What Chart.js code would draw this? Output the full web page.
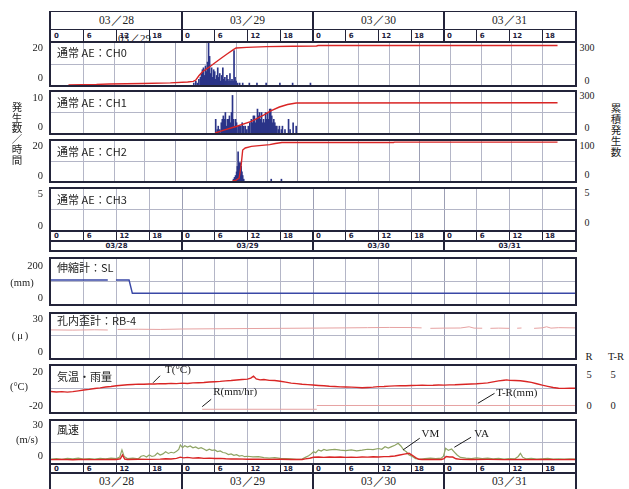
<!DOCTYPE html>
<html>
<head>
<meta charset="utf-8">
<script src="https://cdn.jsdelivr.net/npm/chart.js@4/dist/chart.umd.min.js"></script>
<style>
  html, body { margin: 0; padding: 0; background: #fff; }
  #sheet { position: relative; width: 629px; height: 489px; overflow: hidden; color: #222; font-family: "Liberation Serif", serif; }
  .panel { position: absolute; box-sizing: border-box; border: 2px solid #23243a; background: #fff; }
  .panel canvas { display: block; }
  .title { position: absolute; font-family: "Noto Sans CJK JP", sans-serif; font-size: 11px; line-height: 1; white-space: nowrap; transform: translateY(-50%); }
  .vtitle { position: absolute; font-family: "Noto Sans CJK JP", sans-serif; font-size: 10.5px; text-align: center; width: 14px; }
</style>
</head>
<body>
<div id="sheet"></div>
<script>
// ---- time axis: hours from 03/28 00:00 ----
const dayLabels = ['03／28', '03／29', '03／30', '03／31'];
const dayLabelsSmall = ['03/28', '03/29', '03/30', '03/31'];
const hourTickLabels = ['0', '6', '12', '18'];
const gridHours = [6, 12, 18, 24, 30, 36, 42, 48, 54, 60, 66, 72, 78, 84, 90];

// ---- AE CH0: counts per hour (bars) and cumulative count ----
const ch0BarHours = [24.6,25.0,25.3,25.6,25.9,26.1,26.3,26.5,26.7,26.9,27.1,27.3,27.5,27.7,27.9,28.1,28.3,28.5,28.7,28.9,29.1,29.3,29.5,29.7,29.9,30.1,30.3,30.5,30.7,30.9,31.1,31.3,31.5,31.7,31.9,32.1,32.3,32.5,32.7,32.9,33.2,33.6,34.2,35.5,37.0,38.8,41.5,44.0,47.5];
const ch0BarCounts = [1,2,1,3,4,6,8,9,5,10,7,12,22,15,6,9,4,8,7,3,5,9,4,6,2,5,9,3,4,2,5,3,2,6,2,3,2,18,4,2,1,1,1,1,1,1,1,1,1];
const ch0CumHours = [0,5.5,8,14.6,20,23.4,24.5,25.0,25.6,26.3,27.4,28.7,30.1,31.2,32.3,32.9,35,38.9,44,48.7,49.0,96];
const ch0CumTotals = [0,4,8,11,16,23,28,38,70,101,130,168,208,238,267,282,287,292,295,297,301,301];

// ---- AE CH1 ----
const ch1BarHours = [28.9,29.2,29.4,29.7,30.0,30.2,30.4,30.6,30.8,31.0,31.2,31.4,31.6,31.8,32.0,32.2,32.4,32.6,32.8,33.0,33.3,33.5,33.8,34.1,34.4,34.7,35.0,35.3,35.6,35.9,36.1,36.3,36.5,36.7,36.9,37.1,37.3,37.5,37.7,37.9,38.1,38.3,38.5,38.7,38.9,39.1,39.3,39.5,39.7,39.9,40.1,40.3,40.5,40.7,40.9,41.2,41.4,41.8,42.0,42.5,43.2,43.5,44.1,44.7];
const ch1BarCounts = [4,1,2,1,3,4,5,4,6,2,4,4,5,3,6,11,4,2,4,3,2,2,2,3,2,2,1,2,3,4,3,5,5,3,4,7,5,6,4,6,3,4,3,6,4,6,4,7,7,5,3,4,3,2,2,1,2,1,2,1,4,1,3,2];
const ch1CumHours = [28.8,30.5,32.9,35.9,38.3,39.7,41.4,43.0,44.7,96];
const ch1CumTotals = [0,23,51,91,140,172,203,222,234,236];

// ---- AE CH2 ----
const ch2BarHours = [32.4,32.6,32.8,33.0,33.15,33.3,33.45,33.6,33.75,33.9,34.05,34.2,34.4,39.8,41.8];
const ch2BarCounts = [1,2,3,5,8,16,10,10,10,8,5,3,1,1,1];
const ch2CumHours = [32.2,32.8,33.5,33.9,34.2,34.7,35.9,39.5,40.6,41.9,63.8,64.0,96];
const ch2CumTotals = [0,1.5,9,48,93,99,104,109,112.5,115.5,115.5,116.5,116.5];

// ---- extensometer SL (mm) ----
const slHours = [0,10.4,11.1,11.9,14.3,14.9,96];
const slValues = [109,109,null,109,109,29,29];

// ---- borehole strain gauge RB-4 (μ) ----
const rbHours = [0,4,8,10.4,11.2,12.2,16,20,24,30,36,42,48,54,58,62,66,67.9,68.6,69.5,72,75,76.6,77.5,79,79.6,80.5,82,84,84.6,85.4,86.2,87.4,88.5,90,90.8,91.6,93,96];
const rbValues = [20.2,20.0,20.3,20.1,null,20.6,20.8,20.6,21.0,21.2,21.4,21.6,21.8,22.0,22.2,22.4,22.3,22.0,null,21.6,21.8,21.9,23.0,21.8,21.7,null,21.6,21.8,21.6,null,21.7,21.9,null,21.6,22.0,23.0,21.8,22.2,22.0];

// ---- air temperature T (°C), rainfall R (mm/hr), cumulative rain T-R (mm) ----
const tempHours = [0,1,2,3,4,5,6,7,8,9,10,11,12,13,14,15,16,17,18,19,20,21,22,23,24,25,26,27,28,29,30,31,32,33,34,35,36,36.6,37.1,37.6,38.3,39,40,41,42,43,44,45,46,47,48,49,50,51,52,53,54,55,56,57,58,59,60,61,62,63,64,65,66,67,68,69,70,71,72,73,74,75,76,77,78,79,80,81,82,83,83.5,84,85,86,87,88,89,90,91,92,93,94,95,96];
const tempValues = [-3.2,-3.8,-3.4,-4.0,-3.5,-2.6,-1.6,-0.8,0.2,1.0,2.0,2.6,3.4,4.0,4.6,5.0,5.4,5.2,5.6,5.5,6.0,5.8,6.3,6.0,6.5,6.2,6.8,7.0,7.3,7.8,8.2,8.6,9.2,9.6,10.2,10.8,11.2,12.5,14.8,11.5,10.4,10.8,9.8,9.6,8.8,7.8,6.6,6.0,5.2,4.8,4.3,3.8,3.4,2.9,2.6,2.2,2.0,1.9,1.6,1.2,1.5,1.8,2.4,2.6,3.0,3.3,3.6,3.5,3.8,3.9,4.1,3.9,4.0,4.3,4.2,4.5,4.6,5.0,5.2,5.5,5.8,6.3,6.8,8.0,9.2,10.0,10.4,9.8,9.6,9.3,8.5,7.4,5.8,4.2,2.8,1.4,0.6,0.4,0.6,0.5];
const rainHours = [27.7,48.7];
const rainValues = [0,0];
const rainTotalHours = [48.7,96];
const rainTotalValues = [0,0];

// ---- wind speed: VM (max) and VA (average), m/s ----
const vmHours = [0,1,2,3,4,5,6,7,8,9,10,11,12,12.6,13.0,13.4,14,15,16,16.5,17,17.5,18,18.5,19,19.5,20,20.5,21,21.5,22,22.5,23,23.4,23.7,24.1,24.5,25,25.5,26,26.5,27,27.5,28,28.5,29,29.5,30,30.5,31,31.5,32,32.5,33,33.5,34,34.5,35,35.5,36,37,38,39,40,41,42,43,44,45,46,46.6,47.2,47.6,48.1,48.5,49,49.5,50,50.5,51,52,53,54,55,56,57,58,59,60,60.6,61.2,61.8,62.4,63.0,63.6,64.1,64.6,65.1,65.6,66.2,66.8,67.5,68.5,69.5,70.5,71.5,71.9,72.3,72.8,73.4,73.9,74.4,75,76,77,78,79,80,81,82,83,84,85,85.6,86.0,86.4,87,88,89,90,91,92,93,94,95,96];
const vmValues = [0.8,1.2,0.6,1.4,0.9,1.5,0.8,1.2,0.7,1.3,1.0,1.6,1.2,2.5,8.6,3.0,1.2,1.6,1.0,3.2,3.8,2.6,4.2,3.0,3.6,6.0,4.2,5.2,7.0,5.6,6.6,6.0,7.5,9.0,12.9,10.6,12.2,11.0,12.0,10.4,11.2,9.8,10.6,9.4,8.0,9.2,8.2,8.6,7.2,7.8,6.4,6.0,4.6,5.2,4.0,4.6,3.4,3.8,2.8,3.2,2.6,2.9,2.0,1.6,2.0,1.4,1.2,1.0,0.6,0.8,2.2,3.6,5.0,7.1,6.2,8.6,7.6,9.0,8.2,8.6,9.1,8.4,8.0,8.6,7.8,8.4,9.2,8.8,9.8,9.2,11.4,10.2,11.4,12.6,14.3,12.0,8.6,7.0,4.3,2.9,1.2,0.6,1.2,1.6,1.2,1.6,3.2,10.0,8.2,9.4,6.8,4.3,2.2,1.6,1.2,1.8,1.2,1.6,1.0,1.4,0.8,1.2,1.0,3.0,5.7,2.4,1.0,1.4,0.8,1.0,1.3,0.8,1.0,0.7,1.0,0.8];
const vaHours = [0,2,4,6,8,10,12,12.7,13.1,13.5,14,16,18,20,21,22,23,23.7,24.3,25,26,27,28,29,30,31,32,33,34,36,38,40,42,44,46,46.6,47.4,48.1,49,50,51,52,53,54,55,56,57,58,59,60,61,62,63,63.9,64.7,65.6,66.2,66.8,67.4,68,70,71.5,72.0,72.4,73,73.6,74.2,75,77,80,83,86,88,90,93,96];
const vaValues = [0.3,0.5,0.2,0.5,0.3,0.5,0.4,1.0,4.3,0.8,0.4,0.6,0.5,0.7,1.0,0.8,1.4,2.4,1.8,2.2,1.6,1.9,1.4,1.6,1.2,1.4,1.0,0.8,0.9,0.6,0.7,0.5,0.6,0.4,0.4,0.9,1.5,2.3,2.6,2.2,2.5,2.3,2.6,2.2,2.4,2.2,2.6,2.4,2.7,2.5,2.9,3.0,3.4,4.3,5.0,5.7,4.0,2.0,0.6,0.4,0.5,0.4,1.2,2.9,2.6,2.5,1.0,0.5,0.4,0.5,0.3,0.5,0.3,0.4,0.3,0.4];

// ---- axis labels ----
const ch0AxisLabels = ['20', '0'];
const ch0CumAxisLabels = ['300', '0'];
const ch1AxisLabels = ['10', '0'];
const ch1CumAxisLabels = ['300', '0'];
const ch2AxisLabels = ['20', '0'];
const ch2CumAxisLabels = ['100', '0'];
const ch3AxisLabels = ['5', '0'];
const ch3CumAxisLabels = ['5', '0'];
const slAxisLabels = ['200', '(mm)', '0'];
const rbAxisLabels = ['30', '(μ)', '0'];
const tempAxisLabels = ['20', '(°C)', '-20'];
const rainAxisLabels = ['R', '5', '0'];
const rainTotalAxisLabels = ['T-R', '5', '0'];
const windAxisLabels = ['30', '(m/s)', '0'];

// ---------------------------------------------------------------
const FRAME = '#23243a', INK = '#222', GRID = '#b4b6c7', GRID_DAY = '#9c9fb4';
const BAR = '#2b3488', RED = '#d92525', PINK = '#e6a2a2', GREEN = '#8fa464', BLUE = '#3a48a6';
const PLOT_LEFT = 51, PLOT_W = 524, SPAN_H = 96;
const pxAt = h => PLOT_LEFT + h * PLOT_W / SPAN_H;
const zip = (xs, ys) => xs.map((x, i) => ({ x: x, y: ys[i] }));

const sheet = document.getElementById('sheet');
function el(tag, style, text) {
  const e = document.createElement(tag);
  Object.assign(e.style, style);
  if (text != null) e.textContent = text;
  sheet.appendChild(e);
  return e;
}
function label(text, x, y, align, size, extra) {
  const tx = align === 'right' ? '-100%' : align === 'center' ? '-50%' : '0';
  return el('div', Object.assign({
    position: 'absolute', left: x + 'px', top: y + 'px', transform: 'translate(' + tx + ',-50%)',
    fontSize: (size || 10) + 'px', lineHeight: '1', whiteSpace: 'nowrap', color: INK,
    fontFamily: '"Liberation Serif", serif'
  }, extra || {}), text);
}
function vline(x, top, h, w) {
  el('div', { position: 'absolute', left: (x - w / 2) + 'px', top: top + 'px', width: w + 'px', height: h + 'px', background: FRAME });
}

// hour strip with 0/6/12/18 marks under each day
function hourRow(top, height, bottomBorder) {
  el('div', { position: 'absolute', left: '49px', top: top + 'px', width: '528px', height: height + 'px', boxSizing: 'border-box',
    borderLeft: '2px solid ' + FRAME, borderRight: '2px solid ' + FRAME, borderBottom: bottomBorder ? '2px solid ' + FRAME : 'none' });
  dayLabels.forEach((_, d) => {
    hourTickLabels.forEach((t, k) => {
      const h = 24 * d + Number(t);
      const x = pxAt(h);
      if (h > 0) vline(x, top, height, k === 0 ? 2 : 1.4);
      label(t, x + 3, top + height / 2 - (bottomBorder ? 1 : 0), 'left', 7, { fontFamily: '"DejaVu Sans", sans-serif', fontWeight: 'bold', color: '#1c1c3c' });
    });
  });
}
// date strip
function dateRow(top, height, labels, size, fontExtra, borders) {
  el('div', Object.assign({ position: 'absolute', left: '49px', top: top + 'px', width: '528px', height: height + 'px', boxSizing: 'border-box',
    borderLeft: '2px solid ' + FRAME, borderRight: '2px solid ' + FRAME }, borders));
  labels.forEach((txt, d) => {
    if (d > 0) vline(pxAt(24 * d), top, height, 2);
    label(txt, pxAt(24 * d + 12), top + height / 2 + (fontExtra.dy || 0), 'center', size, fontExtra.style || {});
  });
}

// leader lines with text, anchored in data units
const calloutPlugin = {
  id: 'callouts',
  afterDatasetsDraw(chart, args, opts) {
    const ctx = chart.ctx;
    (opts.items || []).forEach(it => {
      const x = chart.scales.x.getPixelForValue(it.x);
      const y = chart.scales[it.scale].getPixelForValue(it.y);
      ctx.save();
      ctx.strokeStyle = '#1a1a1a';
      ctx.lineWidth = 1;
      ctx.beginPath();
      ctx.moveTo(x, y);
      ctx.lineTo(x + it.dx, y + it.dy);
      ctx.stroke();
      ctx.font = '11px "Liberation Serif", serif';
      ctx.fillStyle = '#1a1a1a';
      ctx.textAlign = 'left';
      ctx.textBaseline = 'middle';
      ctx.fillText(it.text, x + it.dx + it.tx, y + it.dy + it.ty);
      ctx.restore();
    });
  }
};

function makePanel(top, height, y, extraScales, datasets, callouts) {
  const box = el('div', { left: '49px', top: top + 'px', width: '528px', height: height + 'px' });
  box.className = 'panel';
  const cv = document.createElement('canvas');
  cv.width = 524; cv.height = height - 4;
  cv.style.width = '524px'; cv.style.height = (height - 4) + 'px';
  box.appendChild(cv);
  const scales = {
    x: {
      type: 'linear', min: 0, max: 96,
      afterBuildTicks: s => { s.ticks = gridHours.map(v => ({ value: v })); },
      ticks: { display: false, autoSkip: false },
      grid: { color: c => (c.tick && c.tick.value % 24 === 0) ? GRID_DAY : GRID, drawTicks: false, lineWidth: 1 },
      border: { display: false }
    },
    y: {
      type: 'linear', min: y.min, max: y.max,
      afterBuildTicks: s => { s.ticks = [{ value: y.mid }]; },
      ticks: { display: false },
      grid: { color: GRID, drawTicks: false },
      border: { display: false }
    }
  };
  Object.keys(extraScales).forEach(k => {
    scales[k] = Object.assign({ type: 'linear', axis: 'y', position: 'right', display: false }, extraScales[k]);
  });
  return new Chart(cv, {
    type: 'line',
    data: { datasets: datasets },
    options: {
      animation: false, responsive: false, devicePixelRatio: 1,
      layout: { padding: 0 },
      plugins: { legend: { display: false }, tooltip: { enabled: false }, callouts: { items: callouts || [] } },
      elements: { point: { radius: 0 }, line: { tension: 0 } },
      scales: scales
    },
    plugins: [calloutPlugin]
  });
}
function bars(xs, ys) {
  return { type: 'bar', data: zip(xs, ys), backgroundColor: BAR, barThickness: 1, yAxisID: 'y', order: 2 };
}
function line(xs, ys, color, width, axis, extra) {
  return Object.assign({ type: 'line', data: zip(xs, ys), borderColor: color, borderWidth: width, pointRadius: 0, yAxisID: axis, order: 1, spanGaps: false }, extra || {});
}

// ---- header strips ----
dateRow(11, 19, dayLabels, 11.5, {}, { borderTop: '1.5px solid ' + FRAME, borderBottom: '1.5px solid ' + FRAME });
hourRow(30, 11, false);
label('03／29', 118, 38, 'left', 11);

// ---- AE panels ----
makePanel(41, 46, { min: 0, max: 22, mid: 11 }, { yCum: { min: 0, max: 320 } },
  [bars(ch0BarHours, ch0BarCounts), line(ch0CumHours, ch0CumTotals, RED, 1.4, 'yCum')]);
makePanel(90, 45, { min: 0, max: 12, mid: 6 }, { yCum: { min: 0, max: 320 } },
  [bars(ch1BarHours, ch1BarCounts), line(ch1CumHours, ch1CumTotals, RED, 1.4, 'yCum')]);
makePanel(139, 44, { min: 0, max: 22, mid: 11 }, { yCum: { min: 0, max: 120 } },
  [bars(ch2BarHours, ch2BarCounts), line(ch2CumHours, ch2CumTotals, RED, 1.4, 'yCum')]);
makePanel(187, 45, { min: 0, max: 5.5, mid: 2.75 }, {}, []);

hourRow(232, 10, true);
dateRow(242, 10, dayLabelsSmall, 7, { dy: -1, style: { fontFamily: '"DejaVu Sans", sans-serif', fontWeight: 'bold', color: '#1c1c3c' } }, { borderBottom: '2px solid ' + FRAME });

// ---- instrument panels ----
makePanel(257, 49, { min: -36.4, max: 236.4, mid: 100 }, {},
  [line(slHours, slValues, BLUE, 1.4, 'y')]);
makePanel(312, 48, { min: -5.1, max: 34.5, mid: 15 }, {},
  [line(rbHours, rbValues, PINK, 1, 'y')]);
makePanel(364, 50, { min: -27.4, max: 26.7, mid: 0 }, { yR: { min: -0.44, max: 6.98 }, yTR: { min: -1.05, max: 6.37 } },
  [line(tempHours, tempValues, RED, 1.4, 'y'),
   line(rainHours, rainValues, PINK, 1, 'yR'),
   line(rainTotalHours, rainTotalValues, PINK, 1, 'yTR')],
  [{ x: 18.7, y: 7.0, scale: 'y', dx: 7, dy: -7, tx: 5, ty: -6, text: 'T(°C)' },
   { x: 27.7, y: 0.42, scale: 'yR', dx: 9, dy: -7.4, tx: 2, ty: -7, text: 'R(mm/hr)' },
   { x: 78.2, y: 0.35, scale: 'yTR', dx: 16.7, dy: -10, tx: 1.7, ty: 0, text: 'T-R(mm)' }]);
makePanel(419, 46, { min: -2.6, max: 33.4, mid: 15 }, {},
  [line(vmHours, vmValues, GREEN, 1.2, 'y', { order: 2 }),
   line(vaHours, vaValues, RED, 1.4, 'y', { order: 1 })],
  [{ x: 64.5, y: 8.6, scale: 'y', dx: 16.7, dy: -11.7, tx: 1.7, ty: -4.3, text: 'VM' },
   { x: 73.9, y: 10.9, scale: 'y', dx: 16.7, dy: -10, tx: 3.3, ty: -3.3, text: 'VA' }]);

hourRow(465, 9, true);
dateRow(474, 15, dayLabels, 11.5, { dy: 0 }, {});

// ---- panel titles ----
[['通常 AE：CH0', 52], ['通常 AE：CH1', 101.5], ['通常 AE：CH2', 151], ['通常 AE：CH3', 198.5],
 ['伸縮計：SL', 267], ['孔内歪計：RB-4', 320], ['気温・雨量', 375.5], ['風速', 429]].forEach(([t, y]) => {
  const d = el('div', { left: '57px', top: y + 'px' }, t);
  d.className = 'title';
});

// ---- left axis labels ----
label(ch0AxisLabels[0], 43, 47.6, 'right', 10.5); label(ch0AxisLabels[1], 43, 77.7, 'right', 10.5);
label(ch1AxisLabels[0], 43, 98, 'right', 10.5); label(ch1AxisLabels[1], 43, 127, 'right', 10.5);
label(ch2AxisLabels[0], 43, 146, 'right', 10.5); label(ch2AxisLabels[1], 43, 176, 'right', 10.5);
label(ch3AxisLabels[0], 43, 194, 'right', 10.5); label(ch3AxisLabels[1], 43, 226, 'right', 10.5);
label(slAxisLabels[0], 43, 265.5, 'right', 10.5); label(slAxisLabels[1], 22, 283, 'center', 10.5); label(slAxisLabels[2], 43, 298, 'right', 10.5);
label(rbAxisLabels[0], 43, 319, 'right', 10.5); label(rbAxisLabels[1], 21, 335.7, 'center', 10.5, { letterSpacing: '2px' }); label(rbAxisLabels[2], 43, 352.3, 'right', 10.5);
label(tempAxisLabels[0], 43, 371.7, 'right', 10.5); label(tempAxisLabels[1], 19, 386.7, 'center', 10.5); label(tempAxisLabels[2], 43, 405.7, 'right', 10.5);
label(windAxisLabels[0], 43, 425, 'right', 10.5); label(windAxisLabels[1], 27, 440, 'center', 10.5); label(windAxisLabels[2], 43, 456, 'right', 10.5);

// ---- right axis labels ----
label(ch0CumAxisLabels[0], 587, 47.7, 'center', 10); label(ch0CumAxisLabels[1], 587, 81, 'center', 10);
label(ch1CumAxisLabels[0], 587, 96, 'center', 10); label(ch1CumAxisLabels[1], 587, 128, 'center', 10);
label(ch2CumAxisLabels[0], 587, 146, 'center', 10); label(ch2CumAxisLabels[1], 587, 175, 'center', 10);
label(ch3CumAxisLabels[0], 587, 193, 'center', 10); label(ch3CumAxisLabels[1], 587, 223, 'center', 10);
label(rainAxisLabels[0], 589, 356.7, 'center', 10.5); label(rainAxisLabels[1], 589, 375, 'center', 10.5); label(rainAxisLabels[2], 589, 406, 'center', 10.5);
label(rainTotalAxisLabels[0], 616, 356.7, 'center', 10.5); label(rainTotalAxisLabels[1], 613, 375, 'center', 10.5); label(rainTotalAxisLabels[2], 613, 406, 'center', 10.5);

// ---- axis titles (stacked vertically) ----
const leftTitle = el('div', { left: '10px', top: '102px', lineHeight: '10.6px' });
leftTitle.className = 'vtitle';
leftTitle.innerHTML = '発<br>生<br>数<br>／<br>時<br>間';
const rightTitle = el('div', { left: '609px', top: '102px', lineHeight: '11px' });
rightTitle.className = 'vtitle';
rightTitle.innerHTML = '累<br>積<br>発<br>生<br>数';
</script>
</body>
</html>
